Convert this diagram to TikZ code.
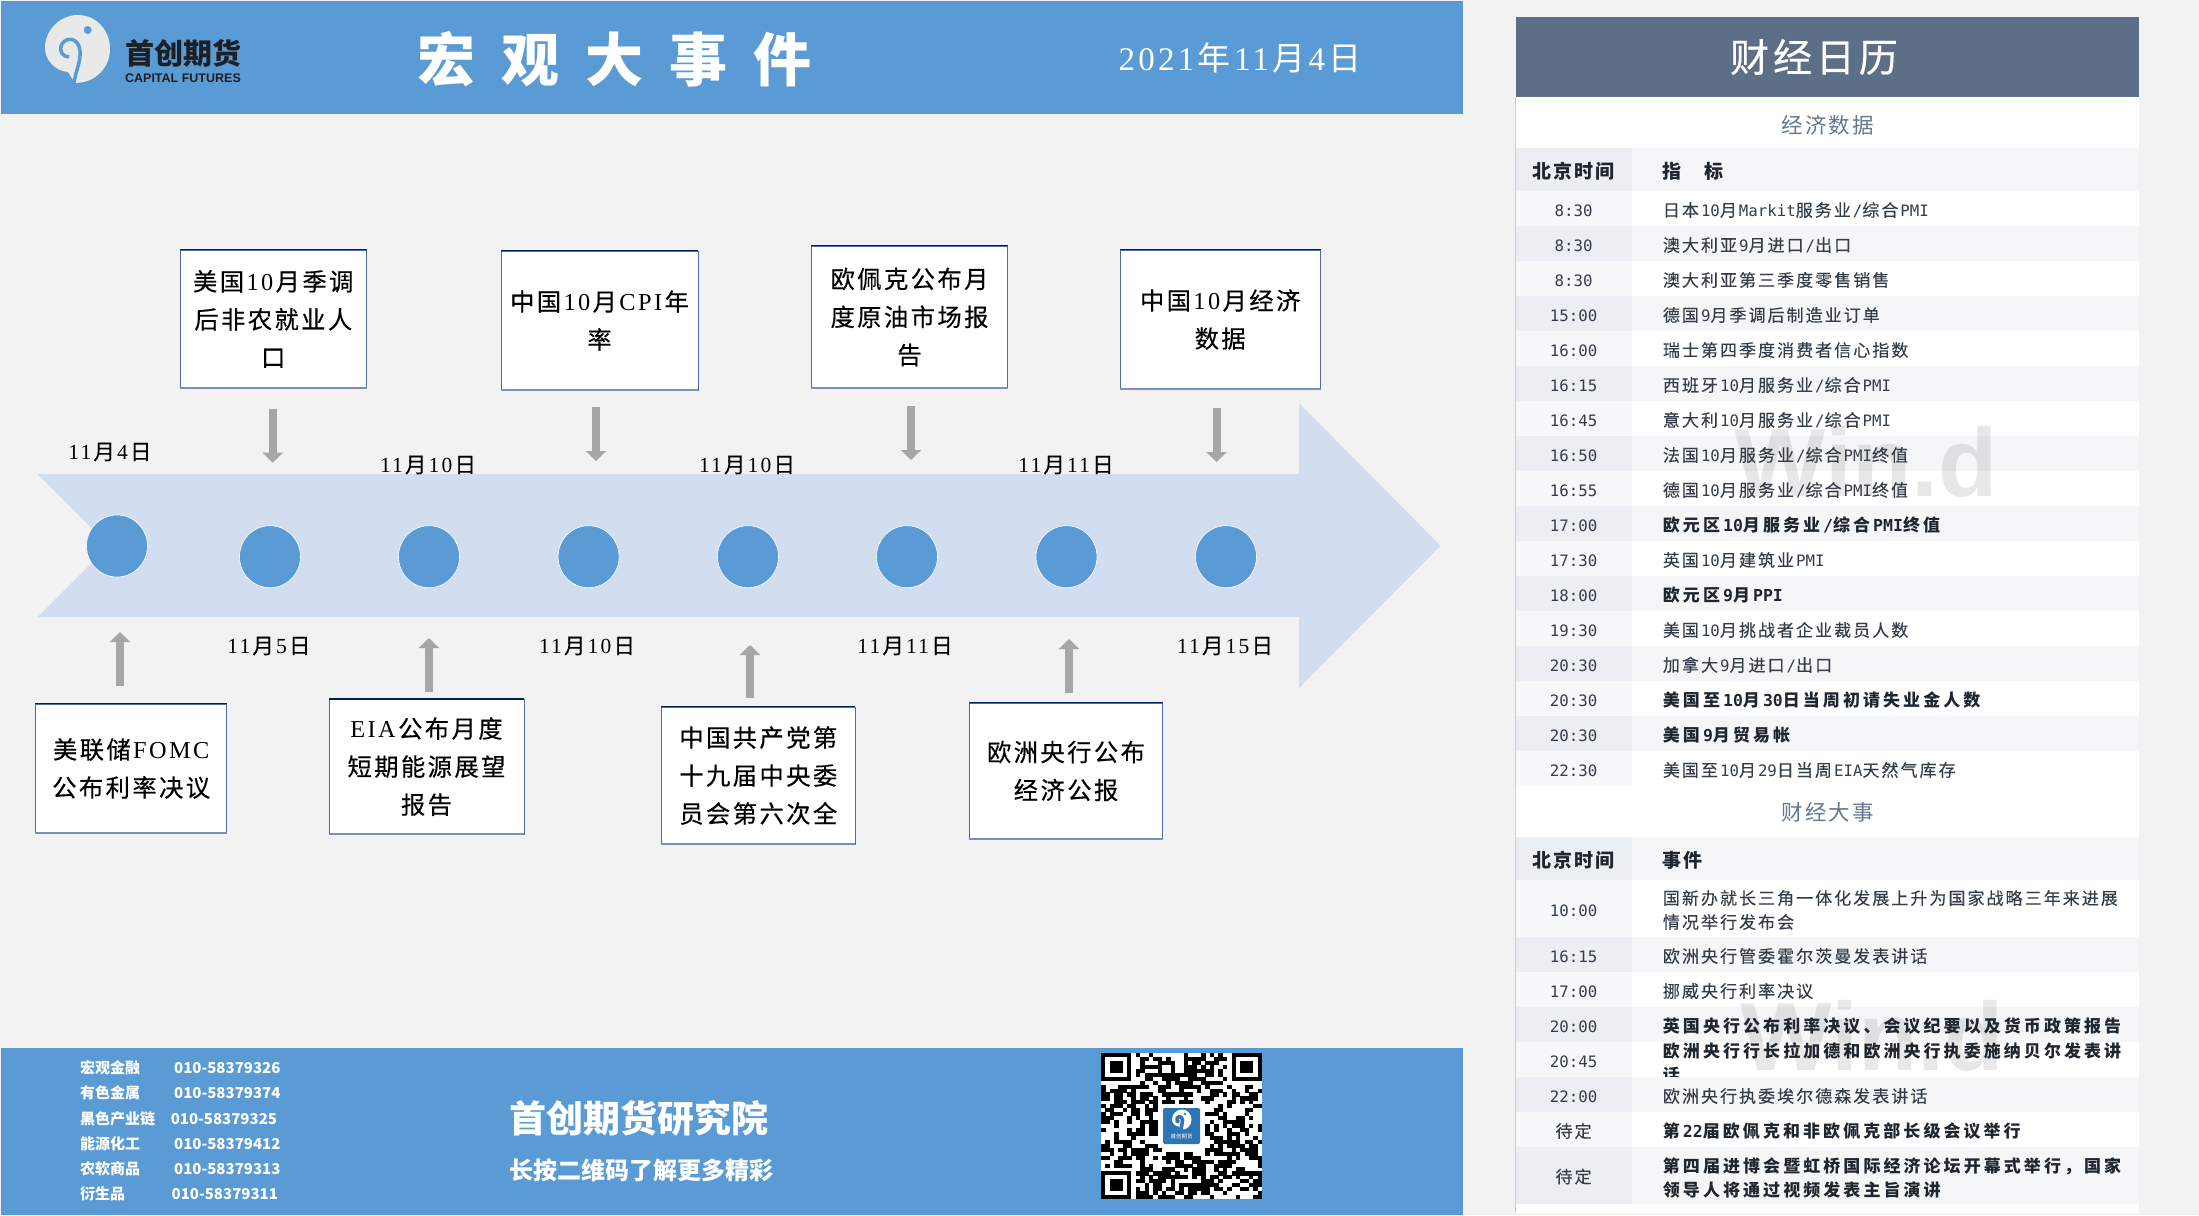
\documentclass[tikz,border=0pt]{standalone}
\usepackage{fontspec}
\usetikzlibrary{arrows.meta,shapes.geometric}
\setmainfont{Liberation Serif}
\newfontfamily\serls[LetterSpace=10]{Liberation Serif}
\newfontfamily\cjkls[LetterSpace=10]{Noto Sans CJK SC}
\newfontfamily\cjkbox[LetterSpace=10,FakeBold=0.4]{Noto Sans CJK SC}
\newfontfamily\cjkplain{Noto Sans CJK SC}
\newfontfamily\cjktitle[LetterSpace=45]{Noto Sans CJK SC}
\newfontfamily\tcjk[LetterSpace=12,FakeBold=0.2]{Noto Sans CJK SC}
\newfontfamily\tcjkb[LetterSpace=18]{Noto Sans CJK SC}
\newfontfamily\tlat[Scale=0.925]{DejaVu Sans Mono}
\newfontfamily\tlatb[Scale=0.97]{DejaVu Sans Mono}
\newfontfamily\arialb{Liberation Sans}
\newcommand\latswitch{\relax}
\newcommand\cjkswitch{\relax}
\newcommand\gapa{0pt}
\newcommand\gapb{0pt}
\newcommand\setfam[2]{\def\latswitch{#1}\def\cjkswitch{#2}\latswitch}
\newcommand\setgap[2]{\def\gapa{#1}\def\gapb{#2}}
\newif\ifqrskip
% automatic CJK / Latin font switching
\newXeTeXintercharclass\cjkcls
\newcount\cjkcnt
\def\cjkrange#1#2{\cjkcnt=#1\relax\loop\ifnum\cjkcnt<#2\relax\XeTeXcharclass\cjkcnt=\cjkcls\advance\cjkcnt by 1\repeat}
\cjkrange{"3000}{"3040}
\cjkrange{"4E00}{"A000}
\cjkrange{"FF00}{"FFF0}
\XeTeXinterchartokenstate=1
\XeTeXinterchartoks 0 \cjkcls={\kern\gapb\relax\cjkswitch}
\XeTeXinterchartoks 4095 \cjkcls={\cjkswitch}
\XeTeXinterchartoks \cjkcls 0={\kern\gapa\relax\latswitch}
\XeTeXinterchartoks 4095 0={\latswitch}
\definecolor{pagebg}{HTML}{F2F2F2}
\definecolor{headblue}{HTML}{5B9BD5}
\definecolor{bar}{HTML}{D2DEEF}
\definecolor{boxtop}{HTML}{002060}
\definecolor{boxside}{HTML}{4F6CA0}
\definecolor{boxbot}{HTML}{7D8FB3}
\definecolor{arrowgray}{HTML}{A6A6A6}
\definecolor{slate}{HTML}{5C6F86}
\definecolor{sectitle}{HTML}{64798F}
\definecolor{stA}{HTML}{EBEEF3}
\definecolor{stB}{HTML}{F5F6F8}
\definecolor{stC}{HTML}{F6F8FA}
\definecolor{rowtext}{HTML}{333E4A}
\definecolor{rowbold}{HTML}{1E2730}
\definecolor{logoink}{HTML}{1C1F24}
\definecolor{logowhite}{HTML}{E9E9E9}
\definecolor{qrblue}{HTML}{2E75B6}
\tikzset{
  evbox/.style={draw=boxside,line width=.8pt,fill=white,inner sep=0pt,align=center,text=black,
    font={\fontsize{24.3}{38}\selectfont\setgap{.1em}{.1em}\setfam\serls\cjkbox}},
  datelab/.style={inner sep=0pt,text=black,font={\fontsize{21.5}{24}\selectfont\setgap{.1em}{.1em}\setfam\serls\cjkbox}},
  dot/.style={ellipse,draw=white,line width=.6pt,fill=headblue,inner sep=0pt,minimum width=61pt,minimum height=62pt},
  blockarrow/.style={draw=arrowgray,line width=8pt,-{Triangle[width=20pt,length=10pt,fill=arrowgray]}},
  ttime/.style={anchor=base,inner sep=0pt,text=rowtext,font={\fontsize{17}{24}\selectfont\setfam\tlat\tcjk}},
  treg/.style={anchor=base west,inner sep=0pt,align=left,text=rowtext,font={\fontsize{17}{24}\selectfont\setgap{.12em}{0pt}\setfam\tlat\tcjk}},
  tbold/.style={anchor=base west,inner sep=0pt,align=left,text=rowbold,font={\fontsize{17}{24}\selectfont\bfseries\setgap{.18em}{0pt}\setfam\tlatb\tcjkb}},
  thead/.style={anchor=base,inner sep=0pt,text=rowbold,font={\fontsize{19}{24}\selectfont\bfseries\setfam\tlat\cjkls}},
  sect/.style={inner sep=0pt,text=sectitle,font={\fontsize{21.5}{24}\selectfont\setfam\cjkls\cjkls}},
  phone/.style={anchor=west,inner sep=0pt,text=white,font={\fontsize{15}{18}\selectfont\bfseries\setfam\cjkplain\cjkplain}},
  watermark/.style={inner sep=0pt,text=black,opacity=.09,font={\fontsize{97}{100}\selectfont\bfseries\arialb}},
}
\newcommand\stripe[3]{%
  \ifnum#3=1
    \fill[stA] (1516,#1) rectangle (1632,#2);
    \fill[stB] (1632,#1) rectangle (2139,#2);
  \else
    \fill[stC] (1516,#1) rectangle (1632,#2);
    \fill[white] (1632,#1) rectangle (2139,#2);
  \fi}
\newcommand\swirl[2]{%
  \fill[#1] (75,83) .. controls (95,83) and (110,68) .. (110,49) .. controls (110,30) and (96,15) .. (78,15) .. controls (60,15) and (45,30) .. (45,48) .. controls (45,60) and (55,71) .. (68,72) -- (75,83) -- cycle;
  \draw[#2,line width=3.5pt] (74,84) .. controls (75,72) and (81,62) .. (80,51) .. controls (79,38) and (67,36) .. (62,44) .. controls (58,51) and (63,57) .. (69,57);
  \fill[#2] (87.7,30) circle (4);}
\begin{document}
\begin{tikzpicture}[x=1pt,y=-1pt]
\useasboundingbox (0,0) rectangle (2199,1215);
\fill[pagebg] (0,0) rectangle (2199,1215);
% header and footer bands
\fill[headblue] (1,1) rectangle (1463,114);
\fill[headblue] (1,1048) rectangle (1463,1215);
% logo
\swirl{logowhite}{headblue}
\node[inner sep=0pt,text=logoink,font={\fontsize{29}{30}\selectfont\bfseries\setfam\cjkplain\cjkplain}] (logocn) at (183,53) {首创期货};
\node[inner sep=0pt,text=logoink,font={\fontsize{12.5}{14}\selectfont\bfseries\setfam\arialb\arialb}] (logoen) at (183,78) {CAPITAL FUTURES};
\node[anchor=west,inner sep=0pt,text=white,font={\fontsize{58}{60}\selectfont\bfseries\setfam\cjktitle\cjktitle}] (title) at (417,59) {宏观大事件};
\node[inner sep=0pt,text=white,font={\fontsize{33}{36}\selectfont\setgap{.1em}{.1em}\setfam\serls\cjkls}] (date) at (1240,58) {2021年11月4日};
% timeline arrow
\fill[bar] (37.5,474) -- (1299,474) -- (1299,403) -- (1440.5,545.7) -- (1299,688) -- (1299,617) -- (37.5,617) -- (109,545.7) -- cycle;
\node[dot] (c1) at (117,546) {};
\foreach \n/\x in {2/270,3/429,4/588.6,5/748,6/907,7/1066.5,8/1226}{\node[dot] (c\n) at (\x,556.7) {};}
% dates
\node[datelab] (d1) at (110,452) {11月4日};
\node[datelab] (d3) at (428,465) {11月10日};
\node[datelab] (d5) at (747,465) {11月10日};
\node[datelab] (d7) at (1066,465) {11月11日};
\node[datelab] (d2) at (269,646) {11月5日};
\node[datelab] (d4) at (587,646) {11月10日};
\node[datelab] (d6) at (905,646) {11月11日};
\node[datelab] (d8) at (1225,646) {11月15日};
% upper boxes
\node[evbox,minimum width=186.6pt,minimum height=138pt] (b1) at (273.3,319) {美国10月季调\\后非农就业人\\口};
\node[evbox,minimum width=197pt,minimum height=139pt] (b2) at (599.5,320.5) {中国10月CPI年\\率};
\node[evbox,minimum width=196pt,minimum height=142pt] (b3) at (909.5,317) {欧佩克公布月\\度原油市场报\\告};
\node[evbox,minimum width=200.5pt,minimum height=139pt] (b4) at (1220.2,319.5) {中国10月经济\\数据};
% lower boxes
\node[evbox,minimum width=191pt,minimum height=129pt] (b5) at (131.2,768.5) {美联储FOMC\\公布利率决议};
\node[evbox,minimum width=195pt,minimum height=134.7pt] (b6) at (426.5,766.6) {EIA公布月度\\短期能源展望\\报告};
\node[evbox,minimum width=193.3pt,minimum height=137pt] (b7) at (758.3,775.5) {中国共产党第\\十九届中央委\\员会第六次全};
\node[evbox,minimum width=193pt,minimum height=136pt] (b8) at (1066,771) {欧洲央行公布\\经济公报};
\foreach \b in {b1,b2,b3,b4,b5,b6,b7,b8}{
  \draw[boxtop,line width=1.4pt] (\b.north west) -- (\b.north east);
  \draw[boxbot,line width=2pt] (\b.south west) -- (\b.south east);
}
% grey arrows
\foreach \n/\x/\ya/\yb in {1/272.7/409/462.7,2/596/407/461,3/911/406/460,4/1216.5/408/462,
                           5/120/686/632,6/429/692/638,7/750/698/645,8/1069/693/639}{
  \coordinate (as\n) at (\x,\ya);
  \coordinate (ae\n) at (\x,\yb);
  \draw[blockarrow] (as\n) -- (ae\n);
}
% footer texts
\foreach \n/\y/\lab/\nx/\num in {1/1067.7/宏观金融/174/010-58379326,2/1093/有色金属/174/010-58379374,3/1119/黑色产业链/170.6/010-58379325,
                                 4/1144/能源化工/174/010-58379412,5/1169/农软商品/174/010-58379313,6/1194/衍生品/171.5/010-58379311}{
  \node[phone] (pl\n) at (80,\y) {\lab};
  \node[phone] (pn\n) at (\nx,\y) {\num};
}
\node[inner sep=0pt,text=white,font={\fontsize{37}{40}\selectfont\bfseries\setfam\cjkplain\cjkplain}] (inst) at (639,1118) {首创期货研究院};
\node[inner sep=0pt,text=white,font={\fontsize{24}{28}\selectfont\bfseries\setfam\cjkplain\cjkplain}] (press) at (641,1170) {长按二维码了解更多精彩};
% QR code
\fill[white] (1101,1053) rectangle (1262,1199);
\begin{scope}[shift={(1101,1053)},x=4.351pt,y=-3.946pt]
  \pgfmathsetseed{11}
  \foreach \i in {0,...,36}{\foreach \j in {0,...,36}{
    \pgfmathrandominteger{\qrv}{0}{99}
    \ifnum\qrv<52
      \qrskipfalse
      \ifnum\i<8 \ifnum\j<8 \qrskiptrue\fi\fi
      \ifnum\i>28 \ifnum\j<8 \qrskiptrue\fi\fi
      \ifnum\i<8 \ifnum\j>28 \qrskiptrue\fi\fi
      \ifnum\i>12 \ifnum\i<24 \ifnum\j>12 \ifnum\j<24 \qrskiptrue\fi\fi\fi\fi
      \ifqrskip\else\fill[black] (\i,\j) rectangle ++(1.04,1.04);\fi
    \fi
  }}
  \foreach \fx/\fy in {0/0,30/0,0/30}{
    \fill[black] (\fx,\fy) rectangle ++(7,7);
    \fill[white] (\fx+1,\fy+1) rectangle ++(5,5);
    \fill[black] (\fx+2,\fy+2) rectangle ++(3,3);
  }
\end{scope}
\fill[white,rounded corners=2.5pt] (1161,1106) rectangle (1202,1146);
\fill[qrblue,rounded corners=2pt] (1163,1108) rectangle (1200,1144);
\begin{scope}[shift={(1158.5,1105)},scale=.3]
  \swirl{white}{qrblue}
\end{scope}
\node[inner sep=0pt,text=white,font={\fontsize{5.5}{6}\selectfont\setfam\cjkplain\cjkplain}] (qrlogo) at (1181.5,1136) {首创期货};
% right panel
\fill[white] (1515.6,17) rectangle (2139,1213);
\draw[gray!40,line width=.8pt] (1515.6,97) -- (1515.6,1213);
\fill[slate] (1515.6,17.3) rectangle (2139,97.3);
\node[inner sep=0pt,text=white,font={\fontsize{39}{40}\selectfont\setfam\cjkbox\cjkbox}] (caltitle) at (1814,57) {财经日历};
\node[sect] (sec1) at (1827.7,125) {经济数据};
\node[sect] (sec2) at (1827.7,812) {财经大事};
% stripes
\stripe{147.7}{191}{1}
\foreach \i in {0,...,16}{
  \pgfmathsetmacro\ya{191+35*\i}\pgfmathsetmacro\yb{226+35*\i}
  \pgfmathtruncatemacro\pr{mod(\i,2)}
  \stripe{\ya}{\yb}{\pr}
}
\stripe{836.7}{880}{1}
\stripe{880}{936.7}{0}
\stripe{936.7}{971.7}{1}
\stripe{971.7}{1006.7}{0}
\stripe{1006.7}{1041.7}{1}
\stripe{1041.7}{1076.7}{0}
\stripe{1076.7}{1111.7}{1}
\stripe{1111.7}{1146.7}{0}
\stripe{1146.7}{1204}{1}
% watermarks
\node[watermark] (wm1) at (1866,462) {Win.d};
\node[watermark] (wm2) at (1872,1036) {Win.d};
% table heads
\node[thead] (h1) at (1573.6,178.5) {北京时间};
\node[thead,anchor=base west] (h2) at (1662.7,178.5) {指\hspace*{23pt}标};
\node[thead] (h3) at (1573.6,867) {北京时间};
\node[thead,anchor=base west] (h4) at (1662.7,867) {事件};
% data rows
\foreach \i/\t/\s/\x in {
  0/8:30/treg/{日本10月Markit服务业/综合PMI},
  1/8:30/treg/{澳大利亚9月进口/出口},
  2/8:30/treg/{澳大利亚第三季度零售销售},
  3/15:00/treg/{德国9月季调后制造业订单},
  4/16:00/treg/{瑞士第四季度消费者信心指数},
  5/16:15/treg/{西班牙10月服务业/综合PMI},
  6/16:45/treg/{意大利10月服务业/综合PMI},
  7/16:50/treg/{法国10月服务业/综合PMI终值},
  8/16:55/treg/{德国10月服务业/综合PMI终值},
  9/17:00/tbold/{欧元区10月服务业/综合PMI终值},
  10/17:30/treg/{英国10月建筑业PMI},
  11/18:00/tbold/{欧元区9月PPI},
  12/19:30/treg/{美国10月挑战者企业裁员人数},
  13/20:30/treg/{加拿大9月进口/出口},
  14/20:30/tbold/{美国至10月30日当周初请失业金人数},
  15/20:30/tbold/{美国9月贸易帐},
  16/22:30/treg/{美国至10月29日当周EIA天然气库存}}{
  \pgfmathsetmacro\yy{216.5+35*\i}
  \node[ttime] (dt\i) at (1573.6,\yy) {\t};
  \node[\s] (dx\i) at (1662.7,\yy) {\x};
}
% event rows
\node[ttime] (et0) at (1573.6,916) {10:00};
\node[treg] (ex0) at (1662.7,928.5) {国新办就长三角一体化发展上升为国家战略三年来进展\\情况举行发布会};
\node[ttime] (et1) at (1573.6,962.5) {16:15};
\node[treg] (ex1) at (1662.7,962.5) {欧洲央行管委霍尔茨曼发表讲话};
\node[ttime] (et2) at (1573.6,997.5) {17:00};
\node[treg] (ex2) at (1662.7,997.5) {挪威央行利率决议};
\node[ttime] (et3) at (1573.6,1032.5) {20:00};
\node[tbold] (ex3) at (1662.7,1032.5) {英国央行公布利率决议、会议纪要以及货币政策报告};
\node[ttime] (et4) at (1573.6,1067.5) {20:45};
\begin{scope}
  \clip (1632,1041.7) rectangle (2139,1076.7);
  \node[tbold] (ex4) at (1662.7,1081.5) {欧洲央行行长拉加德和欧洲央行执委施纳贝尔发表讲\\话};
\end{scope}
\node[ttime] (et5) at (1573.6,1102.5) {22:00};
\node[treg] (ex5) at (1662.7,1102.5) {欧洲央行执委埃尔德森发表讲话};
\node[ttime] (et6) at (1573.6,1137.5) {待定};
\node[tbold] (ex6) at (1662.7,1137.5) {第22届欧佩克和非欧佩克部长级会议举行};
\node[ttime] (et7) at (1573.6,1183) {待定};
\node[tbold] (ex7) at (1662.7,1196.7) {第四届进博会暨虹桥国际经济论坛开幕式举行，国家\\领导人将通过视频发表主旨演讲};
\end{tikzpicture}
\end{document}
